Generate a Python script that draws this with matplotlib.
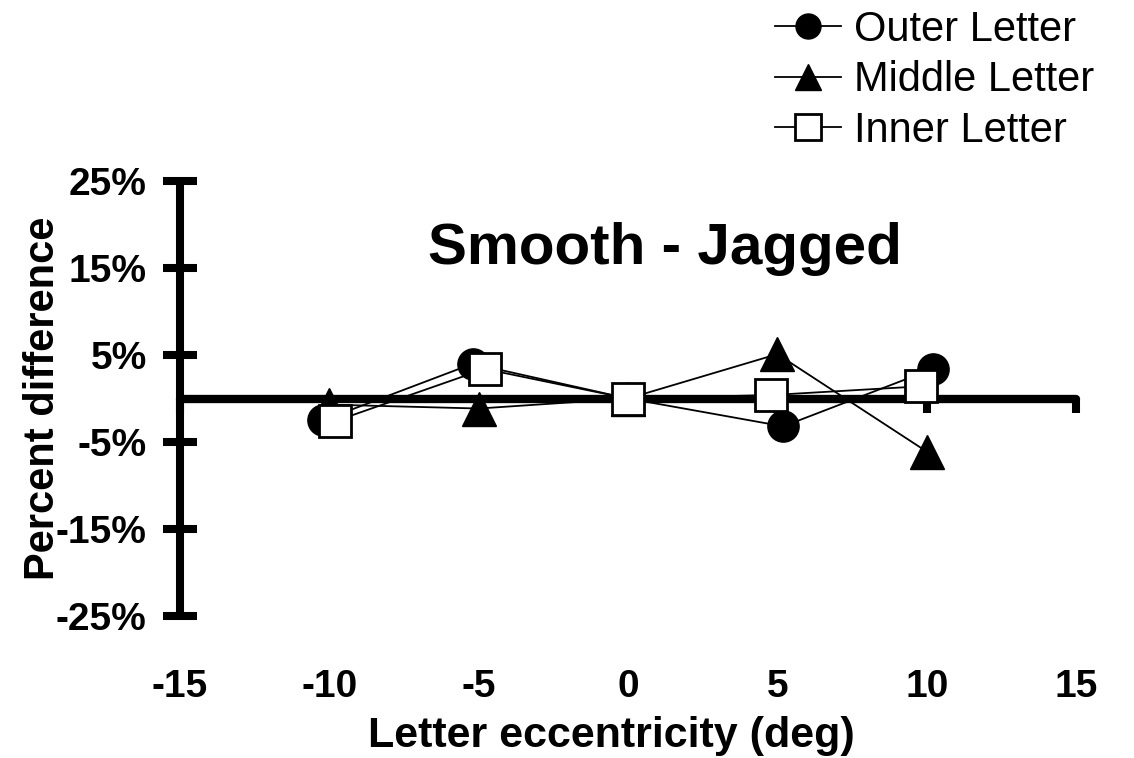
import matplotlib.pyplot as plt

plt.rcParams['font.family'] = ['Liberation Sans', 'DejaVu Sans']

# data (percent difference, smooth - jagged); outer/inner points sit
# slightly off the nominal eccentricities
ecc_outer = [-10.2, -5.2, 0.0, 5.2, 10.2]
ecc_middle = [-10.0, -5.0, 0.0, 5.0, 10.0]
ecc_inner = [-9.8, -4.8, 0.0, 4.8, 9.8]
outer = [-2.5, 4.0, 0.0, -3.2, 3.4]
middle = [-0.7, -1.15, 0.0, 5.1, -6.1]
inner = [-2.6, 3.4, 0.0, 0.4, 1.4]

xticks = [-15, -10, -5, 0, 5, 10, 15]
yticks = [25, 15, 5, -5, -15, -25]
ytick_labels = ['25%', '15%', '5%', '-5%', '-15%', '-25%']

fig = plt.figure(figsize=(11.34, 7.58), dpi=100)
ax = fig.add_axes([0.1587, 0.1873, 0.7902, 0.5739])

ax.plot(ecc_outer, outer, color='black', lw=1.3, marker='o', ms=22.5,
        mfc='black', mec='black', label='Outer Letter', clip_on=False, zorder=3)
ax.plot(ecc_middle, middle, color='black', lw=1.3, marker='^', ms=24,
        mfc='black', mec='black', label='Middle Letter', clip_on=False, zorder=4)
ax.plot(ecc_inner, inner, color='black', lw=1.3, marker='s', ms=23, mew=2,
        mfc='white', mec='black', label='Inner Letter', clip_on=False, zorder=5)

ax.set_xlim(-15, 15)
ax.set_ylim(-25, 25)

for s in ['top', 'right']:
    ax.spines[s].set_visible(False)
ax.spines['bottom'].set_position(('data', 0))
ax.spines['bottom'].set_linewidth(6)
ax.spines['left'].set_linewidth(5.8)
ax.spines['bottom'].set_capstyle('round')
ax.spines['left'].set_capstyle('round')
ax.spines['bottom'].set_zorder(2)

ax.set_xticks(xticks)
ax.tick_params(axis='x', direction='out', length=10, width=5.8,
               labelbottom=False)
ax.set_yticks(yticks)
ax.set_yticklabels(ytick_labels)
ax.tick_params(axis='y', direction='inout', length=24, width=5.8,
               labelsize=28, pad=12)
for t in ax.get_yticklabels():
    t.set_fontweight('bold')

# tick labels of x sit below the plot area
sec = ax.secondary_xaxis(0)
sec.spines['bottom'].set_visible(False)
sec.set_xticks(xticks)
sec.set_xticklabels([str(v) for v in xticks])
sec.tick_params(axis='x', length=0, pad=38, labelsize=28)
for t in sec.get_xticklabels():
    t.set_fontweight('bold')

ax.set_xlabel('Letter eccentricity (deg)', fontsize=31, fontweight='bold')
ax.xaxis.set_label_coords(0.481, -0.23)
ax.set_ylabel('Percent difference', fontsize=30, fontweight='bold')
ax.yaxis.set_label_coords(-0.13, 0.5)

ax.text(0.541, 0.843, 'Smooth - Jagged', transform=ax.transAxes,
        ha='center', va='center', fontsize=42, fontweight='bold')

fig.legend(loc='upper left', bbox_to_anchor=(0.683, 0.987), frameon=False,
           fontsize=30, markerscale=0.8, handlelength=1.6,
           handletextpad=0.31, labelspacing=0.25, borderpad=0, borderaxespad=0)

fig.savefig('out.png', dpi=100)
